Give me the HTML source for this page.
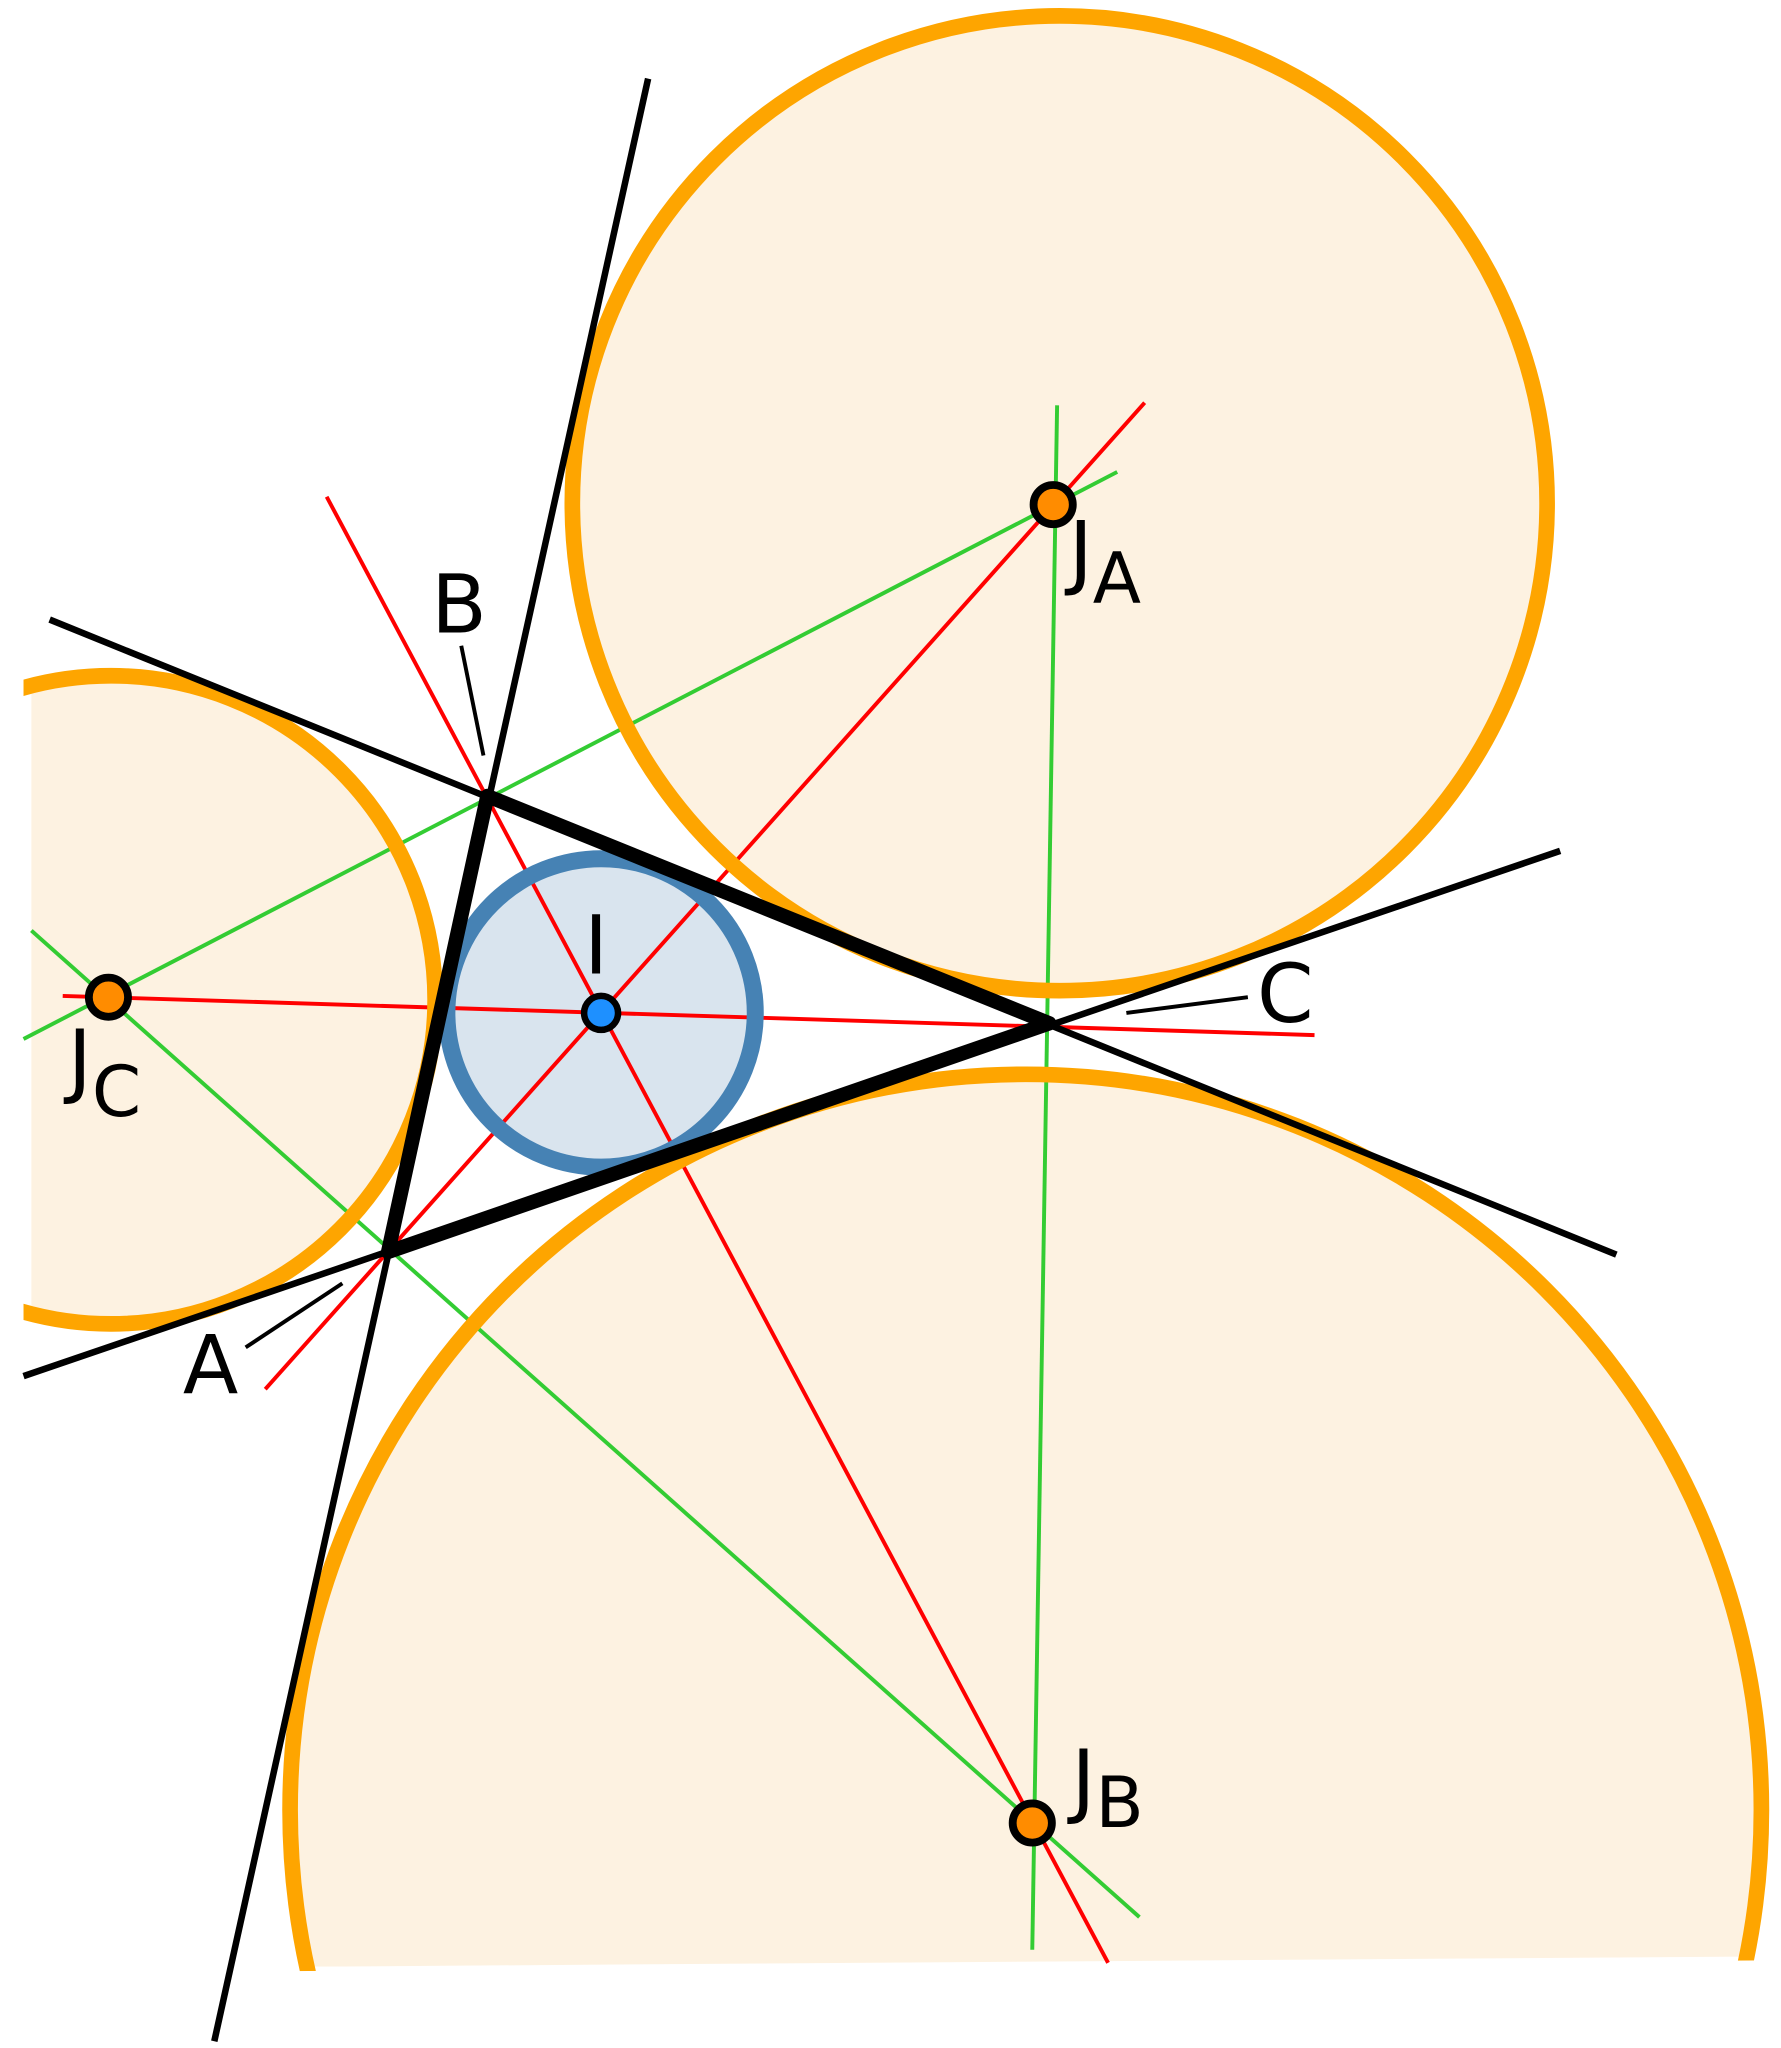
<!DOCTYPE html>
<html><head><meta charset="utf-8"><style>html,body{margin:0;padding:0;background:#fff;overflow:hidden;width:1781px;height:2048px}svg{display:block}</style></head>
<body>
<svg width="1781" height="2048" viewBox="0 0 1363 1567" xmlns="http://www.w3.org/2000/svg" font-family="'DejaVu Sans','Liberation Sans',sans-serif">
<defs>
<clipPath id="cb"><polygon points="0,0 1363,0 1363,1497 232,1505 0,1505"/></clipPath>
<clipPath id="cbs"><polygon points="0,0 1363,0 1363,1500 0,1510"/></clipPath>
<clipPath id="cc"><rect x="24" y="0" width="1400" height="1567"/></clipPath>
<clipPath id="ccs"><rect x="18" y="0" width="1400" height="1567"/></clipPath>
</defs>
<circle cx="811" cy="385" r="373" fill="#fdf2e1"/>
<circle cx="85" cy="765" r="248" fill="#fdf2e1" clip-path="url(#cc)"/>
<circle cx="785" cy="1385" r="563" fill="#fdf2e1" clip-path="url(#cb)"/>
<circle cx="460" cy="775" r="118" fill="#d9e4ee"/>
<g stroke="#f00" stroke-width="3">
<line x1="250" y1="380" x2="848" y2="1502"/>
<line x1="203" y1="1063" x2="876" y2="308"/>
<line x1="48" y1="762" x2="1006" y2="792"/>
</g>
<g stroke="#3c3" stroke-width="3">
<line x1="18" y1="795" x2="855" y2="361"/>
<line x1="24" y1="712" x2="872" y2="1467"/>
<line x1="809" y1="310" x2="790" y2="1492"/>
</g>
<circle cx="811" cy="385" r="373" fill="none" stroke="#fea500" stroke-width="12"/>
<circle cx="85" cy="765" r="248" fill="none" stroke="#fea500" stroke-width="12" clip-path="url(#ccs)"/>
<circle cx="785" cy="1385" r="563" fill="none" stroke="#fea500" stroke-width="12" clip-path="url(#cbs)"/>
<circle cx="460" cy="775" r="118" fill="none" stroke="#4682b4" stroke-width="13"/>
<g stroke="#000" stroke-width="5">
<line x1="496" y1="60" x2="164" y2="1562"/>
<line x1="38" y1="474" x2="1237" y2="960"/>
<line x1="18" y1="1053" x2="1194" y2="651"/>
</g>
<polygon points="373,609 803,783 297,958" fill="none" stroke="#000" stroke-width="11" stroke-linejoin="round"/>
<g stroke="#000" stroke-width="3">
<line x1="353" y1="494" x2="370" y2="578"/>
<line x1="862" y1="775" x2="955" y2="763"/>
<line x1="188" y1="1031" x2="262" y2="982"/>
</g>
<g stroke="#000" stroke-width="6" fill="#ff8c00">
<circle cx="806" cy="386" r="15"/>
<circle cx="83" cy="763" r="15"/>
<circle cx="790" cy="1395" r="15"/>
</g>
<circle cx="460" cy="775" r="13" fill="#1e90ff" stroke="#000" stroke-width="5"/>
<g font-size="62" fill="#000">
<text x="330" y="484">B</text>
<text x="962" y="782">C</text>
<text x="140" y="1066">A</text>
<text x="447" y="745">I</text>
<text x="818" y="443">J<tspan font-size="54" dy="18">A</tspan></text>
<text x="52" y="832">J<tspan font-size="54" dy="22">C</tspan></text>
<text x="820" y="1383">J<tspan font-size="54" dy="15">B</tspan></text>
</g>
</svg>
</body></html>
